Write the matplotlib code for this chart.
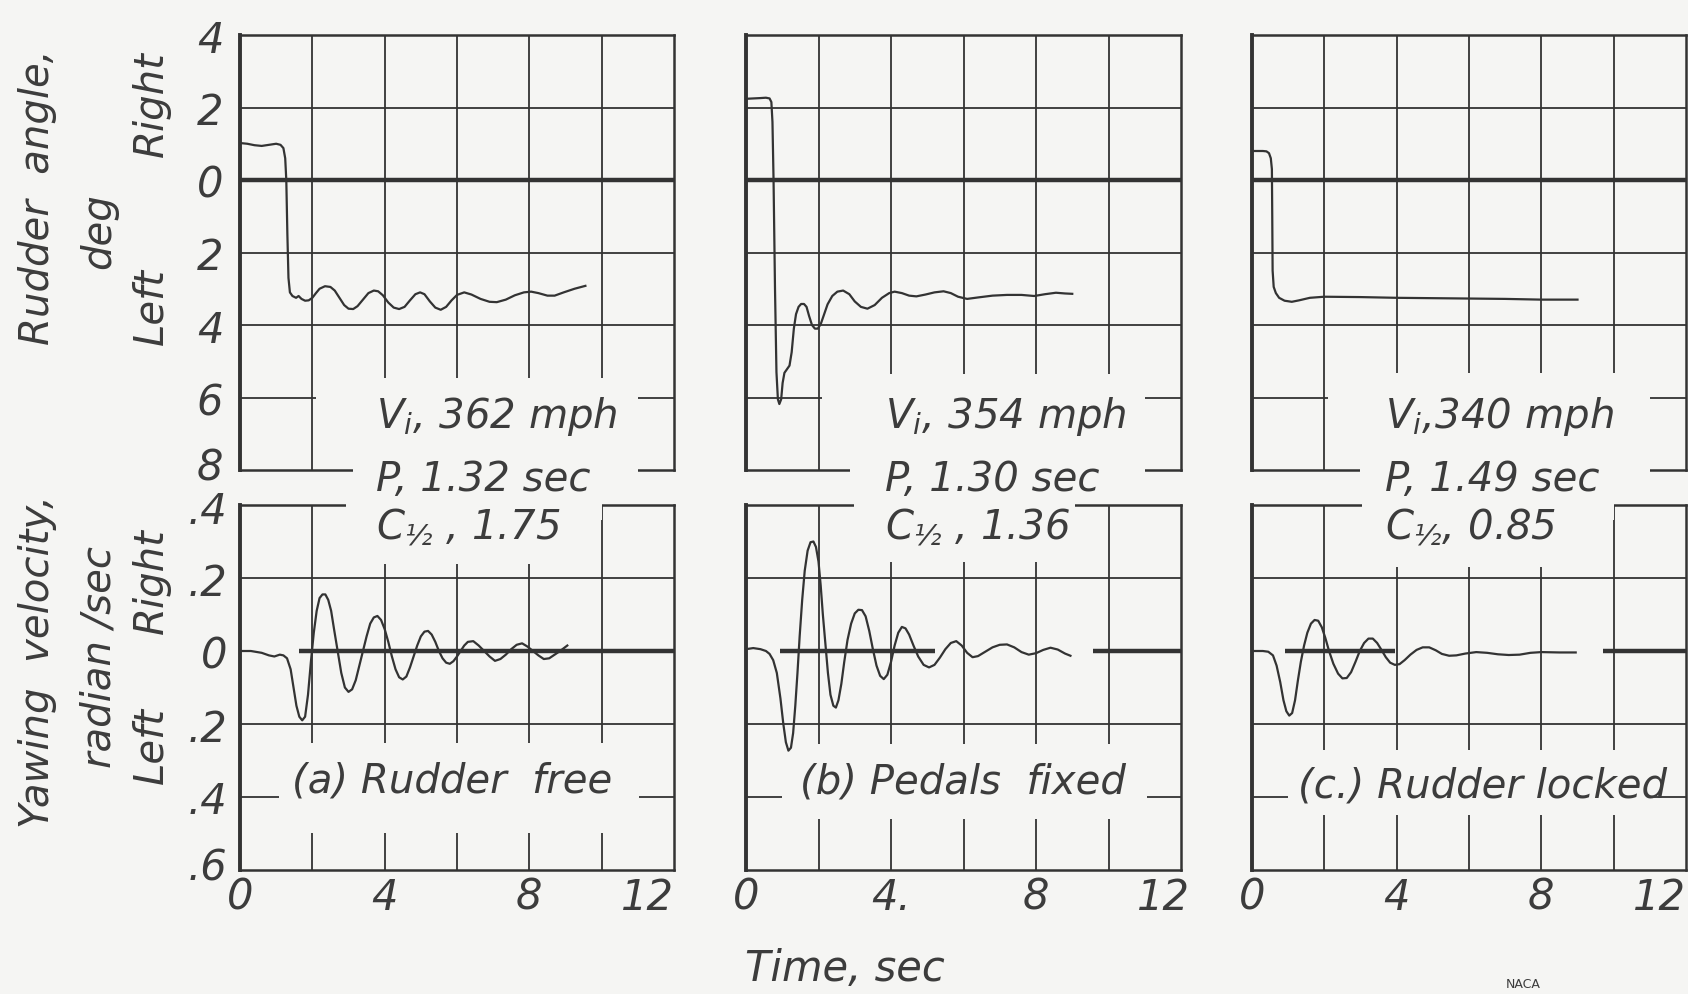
import matplotlib
matplotlib.use("Agg")
import matplotlib.pyplot as plt
from matplotlib.patches import Rectangle
from matplotlib.transforms import ScaledTranslation

plt.rcParams['font.family'] = ['DejaVu Sans']
plt.rcParams['mathtext.default'] = 'regular'

# ---------------- data: (time s, value); rudder deg (right +), yaw rad/s (right +) ----------------
rud_a = [(0, 1.02), (0.2, 1.0), (0.4, 0.96), (0.6, 0.94), (0.8, 0.97), (1.0, 1.0), (1.12, 0.97), (1.2, 0.88),
         (1.25, 0.6), (1.28, 0.0), (1.31, -1.5), (1.34, -2.7), (1.38, -3.1), (1.45, -3.2), (1.55, -3.25),
         (1.62, -3.2), (1.7, -3.28), (1.8, -3.33), (1.9, -3.32), (2.0, -3.25), (2.1, -3.12), (2.2, -3.0),
         (2.35, -2.93), (2.5, -2.95), (2.62, -3.05), (2.75, -3.25), (2.88, -3.45), (3.0, -3.55), (3.13, -3.56),
         (3.25, -3.48), (3.4, -3.3), (3.55, -3.12), (3.7, -3.05), (3.82, -3.07), (3.95, -3.18), (4.1, -3.38),
         (4.25, -3.52), (4.4, -3.56), (4.55, -3.5), (4.7, -3.32), (4.85, -3.15), (4.98, -3.1), (5.1, -3.15),
         (5.25, -3.35), (5.4, -3.52), (5.55, -3.58), (5.7, -3.5), (5.85, -3.32), (6.0, -3.17), (6.2, -3.1),
         (6.4, -3.16), (6.65, -3.28), (6.9, -3.36), (7.1, -3.37), (7.35, -3.3), (7.6, -3.18), (7.85, -3.1),
         (8.05, -3.08), (8.25, -3.12), (8.5, -3.19), (8.7, -3.19), (8.95, -3.1), (9.25, -3.0), (9.55, -2.92)]
yaw_a = [(0, 0.0), (0.3, 0.0), (0.6, -0.005), (0.8, -0.012), (0.95, -0.015), (1.1, -0.01), (1.2, -0.012),
         (1.3, -0.02), (1.4, -0.05), (1.48, -0.1), (1.56, -0.15), (1.64, -0.18), (1.72, -0.19), (1.8, -0.18),
         (1.88, -0.12), (1.96, -0.03), (2.04, 0.05), (2.12, 0.11), (2.2, 0.145), (2.28, 0.155), (2.36, 0.155),
         (2.44, 0.14), (2.52, 0.11), (2.6, 0.06), (2.7, 0.0), (2.8, -0.06), (2.9, -0.1), (3.0, -0.112),
         (3.1, -0.105), (3.2, -0.08), (3.3, -0.04), (3.4, 0.0), (3.5, 0.04), (3.6, 0.075), (3.7, 0.092),
         (3.8, 0.096), (3.9, 0.085), (4.0, 0.06), (4.1, 0.025), (4.2, -0.015), (4.3, -0.05), (4.4, -0.072),
         (4.5, -0.078), (4.6, -0.07), (4.7, -0.045), (4.8, -0.015), (4.9, 0.015), (5.0, 0.04), (5.1, 0.053),
         (5.2, 0.055), (5.3, 0.045), (5.4, 0.025), (5.5, 0.0), (5.6, -0.02), (5.7, -0.032), (5.8, -0.035),
         (5.9, -0.028), (6.0, -0.015), (6.1, 0.0), (6.2, 0.015), (6.3, 0.025), (6.45, 0.027), (6.6, 0.015),
         (6.75, 0.0), (6.9, -0.015), (7.05, -0.027), (7.2, -0.022), (7.35, -0.01), (7.5, 0.005), (7.65, 0.017),
         (7.8, 0.021), (7.95, 0.012), (8.1, 0.0), (8.25, -0.012), (8.4, -0.022), (8.55, -0.02), (8.7, -0.01),
         (8.85, 0.0), (9.05, 0.015)]

rud_b = [(0, 2.24), (0.2, 2.25), (0.4, 2.26), (0.55, 2.27), (0.65, 2.25), (0.7, 2.15), (0.73, 1.6), (0.76, 0.0),
         (0.8, -3.0), (0.84, -5.3), (0.88, -6.05), (0.92, -6.18), (0.97, -6.05), (1.01, -5.6), (1.06, -5.32),
         (1.13, -5.22), (1.2, -5.12), (1.26, -4.75), (1.32, -4.1), (1.38, -3.7), (1.45, -3.5), (1.52, -3.42),
         (1.6, -3.42), (1.67, -3.5), (1.74, -3.75), (1.82, -4.0), (1.9, -4.1), (1.98, -4.1), (2.06, -3.98),
         (2.15, -3.72), (2.25, -3.43), (2.38, -3.2), (2.52, -3.08), (2.68, -3.05), (2.85, -3.15), (3.0, -3.35),
         (3.17, -3.5), (3.35, -3.55), (3.55, -3.45), (3.75, -3.25), (3.95, -3.12), (4.1, -3.08), (4.3, -3.12),
         (4.5, -3.19), (4.7, -3.21), (4.95, -3.16), (5.2, -3.1), (5.45, -3.07), (5.65, -3.12), (5.85, -3.22),
         (6.1, -3.28), (6.4, -3.24), (6.8, -3.19), (7.2, -3.17), (7.6, -3.17), (7.95, -3.2), (8.25, -3.15),
         (8.55, -3.11), (8.8, -3.13), (9.0, -3.14)]
yaw_b = [(0, 0.005), (0.2, 0.008), (0.4, 0.005), (0.55, 0.0), (0.65, -0.008), (0.75, -0.025), (0.85, -0.06),
         (0.95, -0.13), (1.03, -0.2), (1.1, -0.25), (1.17, -0.273), (1.24, -0.265), (1.3, -0.225), (1.36, -0.15),
         (1.42, -0.06), (1.48, 0.04), (1.55, 0.14), (1.62, 0.22), (1.7, 0.275), (1.78, 0.298), (1.86, 0.3),
         (1.93, 0.285), (2.0, 0.245), (2.06, 0.18), (2.12, 0.1), (2.19, 0.02), (2.26, -0.06), (2.33, -0.12),
         (2.41, -0.15), (2.48, -0.155), (2.55, -0.135), (2.63, -0.09), (2.71, -0.03), (2.8, 0.03), (2.9, 0.075),
         (3.0, 0.103), (3.1, 0.113), (3.2, 0.112), (3.3, 0.095), (3.4, 0.055), (3.5, 0.005), (3.6, -0.04),
         (3.7, -0.068), (3.8, -0.077), (3.9, -0.065), (4.0, -0.03), (4.1, 0.015), (4.2, 0.05), (4.3, 0.066),
         (4.4, 0.062), (4.5, 0.045), (4.62, 0.015), (4.75, -0.015), (4.9, -0.038), (5.05, -0.045), (5.2, -0.038),
         (5.35, -0.018), (5.5, 0.005), (5.65, 0.022), (5.8, 0.027), (5.95, 0.015), (6.1, -0.005), (6.25, -0.017),
         (6.4, -0.014), (6.6, -0.002), (6.8, 0.01), (7.0, 0.017), (7.2, 0.018), (7.4, 0.01), (7.6, -0.003),
         (7.8, -0.01), (8.0, -0.006), (8.2, 0.003), (8.4, 0.009), (8.6, 0.004), (8.8, -0.007), (8.95, -0.013)]

rud_c = [(0, 0.8), (0.3, 0.8), (0.4, 0.79), (0.47, 0.74), (0.52, 0.6), (0.55, 0.3), (0.56, -1.0), (0.57, -2.5),
         (0.6, -2.95), (0.66, -3.12), (0.75, -3.25), (0.9, -3.33), (1.1, -3.36), (1.3, -3.32), (1.6, -3.25),
         (2.0, -3.22), (3.0, -3.23), (4.0, -3.25), (5.0, -3.26), (6.0, -3.27), (7.0, -3.28), (8.0, -3.3),
         (9.0, -3.3)]
yaw_c = [(0, 0.0), (0.3, 0.0), (0.45, -0.002), (0.58, -0.012), (0.68, -0.04), (0.78, -0.085), (0.87, -0.135),
         (0.95, -0.165), (1.03, -0.177), (1.11, -0.17), (1.19, -0.135), (1.27, -0.08), (1.35, -0.03),
         (1.44, 0.015), (1.53, 0.05), (1.63, 0.075), (1.73, 0.085), (1.83, 0.083), (1.93, 0.065), (2.03, 0.035),
         (2.13, 0.0), (2.25, -0.035), (2.38, -0.062), (2.5, -0.075), (2.62, -0.074), (2.74, -0.058),
         (2.86, -0.03), (2.98, 0.0), (3.1, 0.022), (3.22, 0.034), (3.34, 0.034), (3.46, 0.022), (3.58, 0.003),
         (3.7, -0.017), (3.82, -0.032), (3.95, -0.038), (4.08, -0.036), (4.22, -0.025), (4.38, -0.01),
         (4.55, 0.003), (4.72, 0.01), (4.9, 0.01), (5.08, 0.002), (5.25, -0.008), (5.45, -0.013), (5.65, -0.012),
         (5.9, -0.007), (6.2, -0.003), (6.5, -0.005), (6.8, -0.009), (7.1, -0.011), (7.4, -0.01), (7.7, -0.005),
         (8.0, -0.003), (8.5, -0.004), (8.95, -0.004)]

# heavy zero-reference segments on the yaw plots (time ranges)
zero_a = [(1.64, 12.0)]
zero_b = [(0.95, 5.2), (9.58, 12.0)]
zero_c = [(0.9, 3.96), (9.7, 12.0)]

info_a = ["V$_i$, 362 mph", "P, 1.32 sec", "C$_{½}$ , 1.75"]
info_b = ["V$_i$, 354 mph", "P, 1.30 sec", "C$_{½}$ , 1.36"]
info_c = ["V$_i$,340 mph", "P, 1.49 sec", "C$_{½}$, 0.85"]
titles = ["(a) Rudder  free", "(b) Pedals  fixed", "(c.) Rudder locked"]

rud_ticks = [4, 2, 0, -2, -4, -6, -8]
rud_ticklabels = ["4", "2", "0", "2", "4", "6", "8"]
yaw_ticks = [0.4, 0.2, 0, -0.2, -0.4, -0.6]
yaw_ticklabels = [".4", ".2", "0", ".2", ".4", ".6"]
time_ticks = [0, 4, 8, 12]
time_ticklabels = [["0", "4", "8", "12"], ["0", "4.", "8", "12"], ["0", "4", "8", "12"]]

# ---------------- layout ----------------
W, H = 1688, 995
BG = '#f5f5f3'
INK = '#333333'
TXT = '#3c3c3c'
fig = plt.figure(figsize=(W / 100, H / 100), dpi=100, facecolor=BG)

def rect(x0, x1, y0, y1):
    return [x0 / W, 1 - y1 / H, (x1 - x0) / W, (y1 - y0) / H]

def shift(artist, dx_px, dy_px):
    artist.set_transform(artist.get_transform() +
                         ScaledTranslation(dx_px / 100, dy_px / 100, fig.dpi_scale_trans))

panel_x = [(240, 674), (746, 1181), (1252, 1686)]
top_y = (36, 471)
bot_y = (506, 871)

# masks (blank areas behind the lettering), in data coordinates of each axis
top_masks = [[(2.09, 11.0, -7.92, -5.45), (3.13, 11.0, -8.4, -7.5)],
             [(2.09, 11.0, -7.92, -5.34), (2.88, 11.0, -8.4, -7.5)],
             [(2.09, 11.0, -7.92, -5.33), (2.99, 11.0, -8.4, -7.5)]]
bot_masks = [[(2.94, 10.0, 0.36, 0.47), (2.09, 9.92, 0.237, 0.39), (1.09, 11.04, -0.498, -0.251)],
             [(2.98, 9.07, 0.36, 0.47), (2.09, 9.92, 0.245, 0.39), (1.0, 11.06, -0.46, -0.255)],
             [(3.04, 10.0, 0.36, 0.47), (2.09, 9.92, 0.23, 0.39), (1.0, 11.1, -0.45, -0.27)]]
twelve_dx = [0, 9, 0]

rud = [rud_a, rud_b, rud_c]
yaw = [yaw_a, yaw_b, yaw_c]
zeros = [zero_a, zero_b, zero_c]
infos = [info_a, info_b, info_c]

GRID_LW = 1.3
TICK_FS = 30
font_ann = dict(fontsize=29, color=TXT, style='oblique')

def style_base(ax, xlim, ylim):
    ax.set_xlim(*xlim)
    ax.set_ylim(*ylim)
    ax.set_facecolor('none')
    for s in ax.spines.values():
        s.set_color(INK)
        s.set_linewidth(1.8)
    ax.spines['left'].set_linewidth(2.8)
    ax.tick_params(length=0, colors=TXT)

for i in range(3):
    x0, x1 = panel_x[i]
    # ----- top: rudder angle -----
    axt = fig.add_axes(rect(x0, x1, *top_y), zorder=0)
    style_base(axt, (0, 12), (-8, 4))
    for gx in [2, 4, 6, 8, 10]:
        axt.axvline(gx, color=INK, lw=GRID_LW)
    for gy in [2, -2, -4, -6]:
        axt.axhline(gy, color=INK, lw=GRID_LW)
    axt.axhline(0, color=INK, lw=3.2)
    axt.set_xticks([])
    if i == 0:
        axt.set_yticks(rud_ticks)
        axt.set_yticklabels(rud_ticklabels, fontsize=TICK_FS, color=TXT, style='oblique')
        axt.tick_params(axis='y', pad=12)
        shift(axt.get_yticklabels()[-1], 0, 7)
    else:
        axt.set_yticks([])

    # ----- bottom: yawing velocity -----
    axb = fig.add_axes(rect(x0, x1, *bot_y), zorder=0)
    style_base(axb, (0, 12), (-0.6, 0.4))
    for gx in [2, 4, 6, 8, 10]:
        axb.axvline(gx, color=INK, lw=GRID_LW)
    for gy in [0.2, -0.2, -0.4]:
        axb.axhline(gy, color=INK, lw=GRID_LW)
    for (s0, s1) in zeros[i]:
        axb.plot([s0, s1], [0, 0], color=INK, lw=3.2, solid_capstyle='butt', clip_on=False)
    axb.set_xticks(time_ticks)
    axb.set_xticklabels(time_ticklabels[i], fontsize=TICK_FS, color=TXT, style='oblique')
    axb.tick_params(axis='x', pad=4)
    lab12 = axb.get_xticklabels()[-1]
    lab12.set_ha('right')
    shift(lab12, twelve_dx[i], 0)
    if i == 0:
        axb.set_yticks(yaw_ticks)
        axb.set_yticklabels(yaw_ticklabels, fontsize=TICK_FS, color=TXT, style='oblique')
        axb.tick_params(axis='y', pad=9)
        shift(axb.get_yticklabels()[0], 0, -2)
        shift(axb.get_yticklabels()[-1], 0, 7)
    else:
        axb.set_yticks([])

    # ----- blank masks behind lettering -----
    for (a0, a1, b0, b1) in top_masks[i]:
        fig.add_artist(Rectangle((a0, b0), a1 - a0, b1 - b0, transform=axt.transData,
                                 facecolor=BG, edgecolor='none', zorder=1, clip_on=False))
    for (a0, a1, b0, b1) in bot_masks[i]:
        fig.add_artist(Rectangle((a0, b0), a1 - a0, b1 - b0, transform=axb.transData,
                                 facecolor=BG, edgecolor='none', zorder=1, clip_on=False))

    # ----- curves on overlay axes -----
    ovt = fig.add_axes(rect(x0, x1, *top_y), zorder=2)
    ovt.set_xlim(0, 12); ovt.set_ylim(-8, 4); ovt.set_axis_off()
    ovt.plot([p[0] for p in rud[i]], [p[1] for p in rud[i]], color=INK, lw=1.6,
             solid_joinstyle='round')
    ovb = fig.add_axes(rect(x0, x1, *bot_y), zorder=2)
    ovb.set_xlim(0, 12); ovb.set_ylim(-0.6, 0.4); ovb.set_axis_off()
    ovb.plot([p[0] for p in yaw[i]], [p[1] for p in yaw[i]], color=INK, lw=1.6,
             solid_joinstyle='round')

# ---------------- lettering ----------------
info_x = [376, 885, 1385]
info_y = [417, 479, 527]
title_xy = [(292, 781), (800, 782), (1298, 786)]
for i in range(3):
    for line, yy in zip(infos[i], info_y):
        fig.text(info_x[i] / W, 1 - yy / H, line, ha='left', va='center', zorder=3, **font_ann)
    fig.text(title_xy[i][0] / W, 1 - title_xy[i][1] / H, titles[i], ha='left', va='center',
             zorder=3, **font_ann)

lab = dict(fontsize=29, color=TXT, style='oblique', rotation=90, ha='center', va='center')
fig.text(38 / W, 1 - 197 / H, "Rudder  angle,", **lab)
fig.text(99 / W, 1 - 231 / H, "deg", **lab)
fig.text(151 / W, 1 - 104 / H, "Right", **lab)
fig.text(151 / W, 1 - 307 / H, "Left", **lab)
fig.text(38 / W, 1 - 662 / H, "Yawing  velocity,", **lab)
fig.text(99 / W, 1 - 657 / H, "radian /sec", **lab)
fig.text(151 / W, 1 - 581 / H, "Right", **lab)
fig.text(151 / W, 1 - 745 / H, "Left", **lab)

fig.text(845 / W, 1 - 969 / H, "Time, sec", fontsize=30, color=TXT, style='oblique',
         ha='center', va='center')
fig.text(1523 / W, 1 - 985 / H, "NACA", fontsize=9, color=TXT, ha='center', va='center')

fig.savefig("out.png", dpi=100, facecolor=BG)
